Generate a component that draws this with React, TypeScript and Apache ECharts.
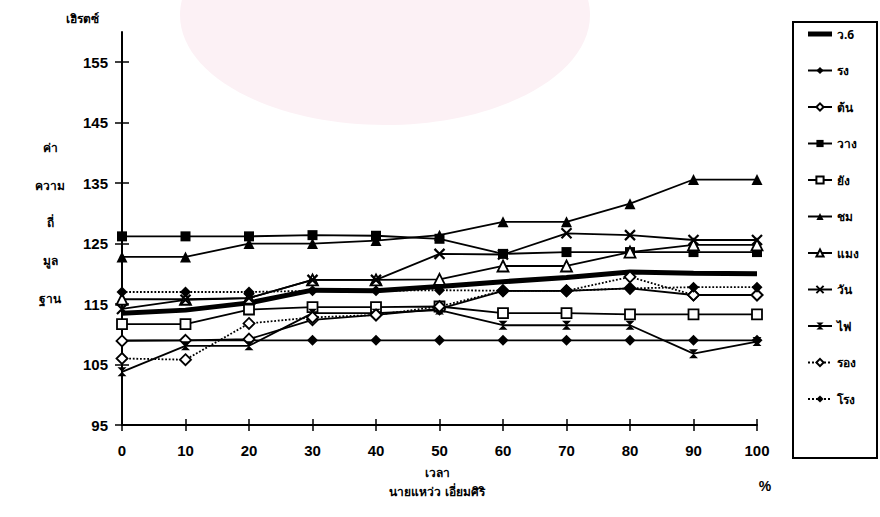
import React, { useEffect, useRef } from "react";
import * as echarts from "echarts";

const xValues = [0, 10, 20, 30, 40, 50, 60, 70, 80, 90, 100];
const yTickLabels = [95, 105, 115, 125, 135, 145, 155];

const names = ["ว.6", "รง", "ต้น", "วาง", "ยัง", "ชม", "แมง", "วัน", "ไฟ", "รอง", "โรง"];

const v6 = [113.5, 114, 115.2, 117.3, 117.2, 117.9, 118.7, 119.4, 120.3, 120.1, 120];
const rong = [109, 109, 109, 109, 109, 109, 109, 109, 109, 109, 109];
const ton = [108.9, 109, 109.2, 112.4, 113.2, 114.2, 117.2, 117.2, 117.6, 116.5, 116.5];
const wang = [126.2, 126.2, 126.2, 126.4, 126.3, 125.8, 123.3, 123.6, 123.6, 123.6, 123.6];
const yang = [111.7, 111.7, 114.1, 114.5, 114.5, 114.6, 113.5, 113.5, 113.3, 113.3, 113.3];
const chom = [122.8, 122.8, 125, 125, 125.5, 126.4, 128.6, 128.6, 131.6, 135.6, 135.6];
const maeng = [115.8, 115.8, 116, 119, 119, 119.1, 121.3, 121.3, 123.6, 124.8, 124.8];
const wan = [114.2, 115.7, 116, 119, 119, 123.3, 123.2, 126.7, 126.4, 125.6, 125.6];
const fai = [103.8, 108.1, 108.1, 113.5, 113.5, 114, 111.5, 111.5, 111.5, 106.8, 108.8];
const rawng = [106, 105.8, 111.8, 112.8, 113.2, 114.6, 117.2, 117.2, 119.5, 116.5, 116.5];
const rongDot = [117, 117, 117, 117.2, 117.2, 117.3, 117.2, 117.2, 117.6, 117.8, 117.8];

const seriesValues = [v6, rong, ton, wang, yang, chom, maeng, wan, fai, rawng, rongDot];

const X_PATH = "path://M0,0L10,10M10,0L0,10";
const HOURGLASS = "path://M0,0L10,0L0,10L10,10Z";
const THICK_LINE_ICON = "path://M0,0L24,0L24,5L0,5Z";

type Sty = { symbol: string; hollow: boolean; dotted: boolean; width: number; size: number; stroke?: boolean };
const styles: Sty[] = [
  { symbol: "none", hollow: false, dotted: false, width: 5, size: 0 },
  { symbol: "diamond", hollow: false, dotted: false, width: 1.8, size: 11 },
  { symbol: "diamond", hollow: true, dotted: false, width: 1.8, size: 11 },
  { symbol: "rect", hollow: false, dotted: false, width: 1.8, size: 10 },
  { symbol: "rect", hollow: true, dotted: false, width: 1.8, size: 10 },
  { symbol: "triangle", hollow: false, dotted: false, width: 1.8, size: 11 },
  { symbol: "triangle", hollow: true, dotted: false, width: 1.8, size: 11 },
  { symbol: X_PATH, hollow: false, dotted: false, width: 1.8, size: 10, stroke: true },
  { symbol: HOURGLASS, hollow: false, dotted: false, width: 1.8, size: 9 },
  { symbol: "diamond", hollow: true, dotted: true, width: 1.8, size: 11 },
  { symbol: "diamond", hollow: false, dotted: true, width: 1.8, size: 11 },
];

const FONT = "'Liberation Sans', 'Noto Sans', sans-serif";
const THAI = "'Noto Sans', 'DejaVu Sans', sans-serif";

export default function App() {
  const ref = useRef<HTMLDivElement>(null);
  useEffect(() => {
    if (!ref.current) return;
    const chart = echarts.init(ref.current, null, { renderer: "svg" });

    const series = seriesValues.map((vals, i) => {
      const s = styles[i];
      let itemStyle: any;
      if (s.symbol === "none") itemStyle = { color: "#000" };
      else if (s.stroke) itemStyle = { color: "transparent", borderColor: "#000", borderWidth: 2.2 };
      else if (s.hollow) itemStyle = { color: "#fff", borderColor: "#000", borderWidth: 1.8 };
      else itemStyle = { color: "#000", borderColor: "#000", borderWidth: 0 };
      return {
        name: names[i],
        type: "line",
        data: vals.map((v, k) => [xValues[k], v]),
        symbol: s.symbol,
        symbolSize: s.size,
        showSymbol: s.symbol !== "none",
        lineStyle: { color: "#000", width: s.width, type: s.dotted ? "dotted" : "solid" },
        itemStyle,
        z: 3 + i,
      };
    });

    const legendData = names.map((n, i) =>
      i === 0 ? { name: n, icon: THICK_LINE_ICON, itemStyle: { color: "#000", borderWidth: 0 } } : { name: n }
    );

    chart.setOption({
      animation: false,
      backgroundColor: "#fff",
      grid: { left: 122, right: 123, top: 32, bottom: 92 },
      xAxis: [
        {
          type: "value",
          min: 0,
          max: 100,
          interval: 10,
          axisLine: { lineStyle: { color: "#000", width: 2 } },
          axisTick: { show: true, length: 6, inside: false, lineStyle: { color: "#000", width: 1.5 } },
          axisLabel: { color: "#000", fontSize: 15, fontWeight: "bold", fontFamily: FONT, margin: 18 },
          splitLine: { show: false },
        },
        {
          type: "value",
          position: "bottom",
          min: 0,
          max: 100,
          interval: 10,
          axisLine: { show: false },
          axisTick: { show: true, length: 6, inside: true, lineStyle: { color: "#000", width: 1.5 } },
          axisLabel: { show: false },
          splitLine: { show: false },
        },
      ],
      yAxis: [
        {
          type: "value",
          min: 95,
          max: 160,
          axisLine: { show: true, lineStyle: { color: "#000", width: 2 } },
          axisTick: { show: true, length: 7, customValues: yTickLabels, lineStyle: { color: "#000", width: 1.5 } },
          axisLabel: {
            customValues: yTickLabels,
            color: "#000",
            fontSize: 15,
            fontWeight: "bold",
            fontFamily: FONT,
            margin: 14,
          },
          splitLine: { show: false },
        },
        {
          type: "value",
          position: "left",
          min: 95,
          max: 160,
          axisLine: { show: false },
          axisTick: { show: true, inside: true, length: 7, customValues: yTickLabels, lineStyle: { color: "#000", width: 1.5 } },
          axisLabel: { show: false, customValues: yTickLabels },
          splitLine: { show: false },
        },
      ],
      legend: {
        orient: "vertical",
        left: 802,
        top: 22,
        itemWidth: 24,
        itemHeight: 9,
        itemGap: 22.5,
        textStyle: { color: "#000", fontSize: 12, fontWeight: "bold", fontFamily: THAI, lineHeight: 14 },
        data: legendData,
      },
      graphic: [
        { type: "ellipse", shape: { cx: 385, cy: 15, rx: 205, ry: 110 }, style: { fill: "#fcf1f5" }, z: -20, silent: true },
        { type: "rect", shape: { x: 793, y: 22, width: 84, height: 436 }, style: { fill: "none", stroke: "#000", lineWidth: 2 }, z: 10 },
        { type: "text", x: 82, y: 18, style: { text: "เฮิรตซ์", font: `bold 12px ${THAI}`, fill: "#000", textAlign: "center", textVerticalAlign: "middle" } },
        { type: "text", x: 50, y: 147, style: { text: "ค่า", font: `bold 12px ${THAI}`, fill: "#000", textAlign: "center", textVerticalAlign: "middle" } },
        { type: "text", x: 50, y: 185, style: { text: "ความ", font: `bold 12px ${THAI}`, fill: "#000", textAlign: "center", textVerticalAlign: "middle" } },
        { type: "text", x: 50, y: 222, style: { text: "ถี่", font: `bold 12px ${THAI}`, fill: "#000", textAlign: "center", textVerticalAlign: "middle" } },
        { type: "text", x: 50, y: 260, style: { text: "มูล", font: `bold 12px ${THAI}`, fill: "#000", textAlign: "center", textVerticalAlign: "middle" } },
        { type: "text", x: 50, y: 298, style: { text: "ฐาน", font: `bold 12px ${THAI}`, fill: "#000", textAlign: "center", textVerticalAlign: "middle" } },
        { type: "text", x: 437, y: 472, style: { text: "เวลา", font: `bold 12px ${THAI}`, fill: "#000", textAlign: "center", textVerticalAlign: "middle" } },
        { type: "text", x: 437, y: 491, style: { text: "นายแหว่ว เอี่ยมศิริ", font: `bold 12px ${THAI}`, fill: "#000", textAlign: "center", textVerticalAlign: "middle" } },
        { type: "text", x: 765, y: 486, style: { text: "%", font: `bold 14px ${FONT}`, fill: "#000", textAlign: "center", textVerticalAlign: "middle" } },
      ],
      series,
    });

    return () => chart.dispose();
  }, []);

  return <div ref={ref} style={{ position: "absolute", left: 0, top: 0, width: 880, height: 517 }} />;
}
